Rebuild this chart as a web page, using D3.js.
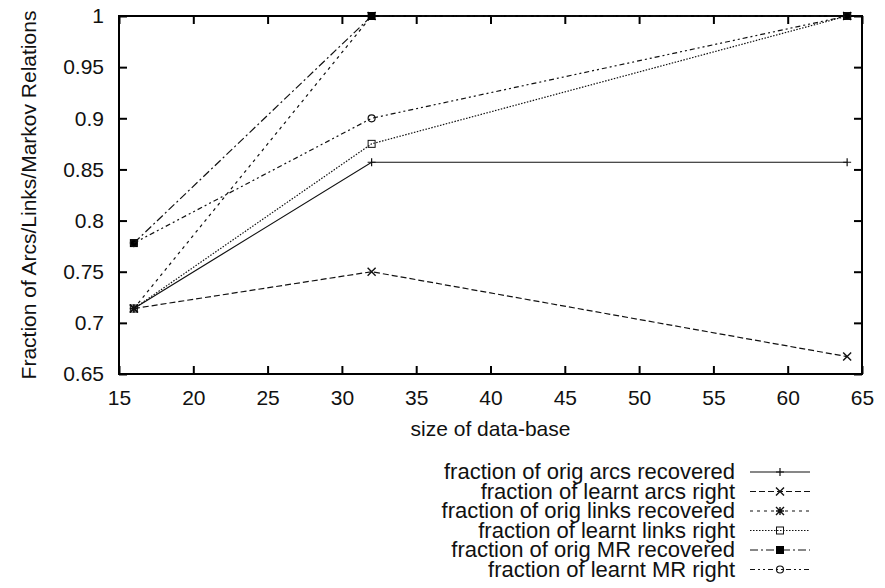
<!DOCTYPE html>
<html>
<head>
<meta charset="utf-8">
<script src="https://cdn.jsdelivr.net/npm/d3@7"></script>
<style>
    body { margin: 0; background: #fff; }
    svg { font-family: "Liberation Sans", Arial, sans-serif; }
</style>
</head>
<body>
<svg width="885" height="588"></svg>
<script>
// data
const sizes = [16, 32, 64];
const seriesNames = [
    "fraction of orig arcs recovered",
    "fraction of learnt arcs right",
    "fraction of orig links recovered",
    "fraction of learnt links right",
    "fraction of orig MR recovered",
    "fraction of learnt MR right"
];
const origArcsRecovered = [0.714, 0.857, 0.857];
const learntArcsRight = [0.714, 0.75, 0.667];
const origLinksRecovered = [0.714, 1.0, 1.0];
const learntLinksRight = [0.714, 0.875, 1.0];
const origMRRecovered = [0.778, 1.0, 1.0];
const learntMRRight = [0.778, 0.9, 1.0];
const xTicks = [15, 20, 25, 30, 35, 40, 45, 50, 55, 60, 65];
const yTicks = [0.65, 0.7, 0.75, 0.8, 0.85, 0.9, 0.95, 1];

const seriesValues = [origArcsRecovered, learntArcsRight, origLinksRecovered,
    learntLinksRight, origMRRecovered, learntMRRight];
// gnuplot-like line types
const dashes = ["none", "6,3", "3,4", "1.5,1.5", "8,3,2,3", "5,3,2,3,2,3"];
const markers = ["plus", "cross", "star", "box", "boxFilled", "circle"];

let plotLeft = 119, plotRight = 862, plotTop = 16, plotBottom = 374;
let svg = d3.select("svg");

let x = d3.scaleLinear().domain([15, 65]).range([plotLeft, plotRight]);
let y = d3.scaleLinear().domain([0.65, 1]).range([plotBottom, plotTop]);
let fmt = d => String(+d.toFixed(2));

// оси с тиками внутрь
svg.append("g")
    .attr("transform", `translate(0,${plotBottom})`)
    .call(d3.axisBottom(x).tickValues(xTicks).tickSize(-8).tickPadding(16).tickFormat(fmt))
    .call(g => g.select(".domain").remove());
svg.append("g")
    .attr("transform", `translate(0,${plotTop})`)
    .call(d3.axisTop(x).tickValues(xTicks).tickSize(-8).tickFormat(""))
    .call(g => g.select(".domain").remove());
svg.append("g")
    .attr("transform", `translate(${plotLeft},0)`)
    .call(d3.axisLeft(y).tickValues(yTicks).tickSize(-8).tickPadding(15).tickFormat(fmt))
    .call(g => g.select(".domain").remove());
svg.append("g")
    .attr("transform", `translate(${plotRight},0)`)
    .call(d3.axisRight(y).tickValues(yTicks).tickSize(-8).tickFormat(""))
    .call(g => g.select(".domain").remove());

svg.selectAll(".tick line").attr("stroke", "#000").attr("stroke-width", 2);
svg.selectAll(".tick text")
    .attr("font-size", 21)
    .attr("font-family", "Liberation Sans, Arial, sans-serif")
    .attr("fill", "#111");

svg.append("rect")
    .attr("x", plotLeft).attr("y", plotTop)
    .attr("width", plotRight - plotLeft).attr("height", plotBottom - plotTop)
    .attr("fill", "none").attr("stroke", "#000").attr("stroke-width", 2);

// подписи осей
svg.append("text")
    .attr("x", (plotLeft + plotRight) / 2).attr("y", 436)
    .attr("text-anchor", "middle").attr("font-size", 21).attr("fill", "#111")
    .text("size of data-base");
svg.append("text")
    .attr("transform", `translate(36,${(plotTop + plotBottom) / 2}) rotate(-90)`)
    .attr("text-anchor", "middle").attr("font-size", 21).attr("fill", "#111")
    .text("Fraction of Arcs/Links/Markov Relations");

// маркеры точек, пустые фигуры без заливки
function drawMarker(g, type, cx, cy) {
    let s = 4;
    if (type === "plus") {
        g.append("path").attr("d", `M${cx - s},${cy}H${cx + s}M${cx},${cy - s}V${cy + s}`)
            .attr("stroke", "#111").attr("stroke-width", 1.2);
    } else if (type === "cross") {
        g.append("path").attr("d", `M${cx - s},${cy - s}L${cx + s},${cy + s}M${cx - s},${cy + s}L${cx + s},${cy - s}`)
            .attr("stroke", "#111").attr("stroke-width", 1.4);
    } else if (type === "star") {
        g.append("path").attr("d", `M${cx - s},${cy}H${cx + s}M${cx},${cy - s}V${cy + s}M${cx - s},${cy - s}L${cx + s},${cy + s}M${cx - s},${cy + s}L${cx + s},${cy - s}`)
            .attr("stroke", "#111").attr("stroke-width", 1.4);
    } else if (type === "box") {
        g.append("rect").attr("x", cx - 3.5).attr("y", cy - 3.5).attr("width", 7).attr("height", 7)
            .attr("fill", "none").attr("stroke", "#111").attr("stroke-width", 1);
    } else if (type === "boxFilled") {
        g.append("rect").attr("x", cx - 4).attr("y", cy - 4).attr("width", 8).attr("height", 8)
            .attr("fill", "#000");
    } else if (type === "circle") {
        g.append("circle").attr("cx", cx).attr("cy", cy).attr("r", 3.5)
            .attr("fill", "none").attr("stroke", "#111").attr("stroke-width", 1.2);
    }
}

let line = d3.line().x(d => x(d[0])).y(d => y(d[1]));

seriesValues.forEach((vals, i) => {
    let pts = sizes.map((s, k) => [s, vals[k]]);
    let g = svg.append("g");
    g.append("path")
        .attr("d", line(pts))
        .attr("fill", "none")
        .attr("stroke", "#111")
        .attr("stroke-width", 1.2)
        .attr("stroke-dasharray", dashes[i]);
    pts.forEach(p => drawMarker(g, markers[i], x(p[0]), y(p[1])));
});

// легенда
seriesNames.forEach((name, i) => {
    let by = 479 + i * 19.5;
    let ly = by - 7;
    let g = svg.append("g");
    g.append("text")
        .attr("x", 735).attr("y", by)
        .attr("text-anchor", "end").attr("font-size", 22).attr("fill", "#111")
        .text(name);
    g.append("line")
        .attr("x1", 750).attr("x2", 810).attr("y1", ly).attr("y2", ly)
        .attr("stroke", "#111").attr("stroke-width", 1.2)
        .attr("stroke-dasharray", dashes[i]);
    drawMarker(g, markers[i], 780, ly);
});
</script>
</body>
</html>
